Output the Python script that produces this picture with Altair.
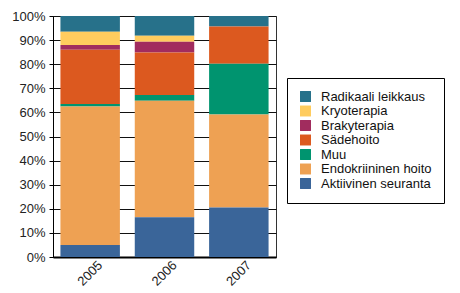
import altair as alt
import pandas as pd

years = ["2005", "2006", "2007"]
categories = ["Radikaali leikkaus", "Kryoterapia", "Brakyterapia", "Sädehoito",
              "Muu", "Endokriininen hoito", "Aktiivinen seuranta"]
colors = ["#27718A", "#FFCC5E", "#A12C5E", "#DC591F", "#00946F", "#EEA153", "#3A6599"]

# values per category (percent), for 2005, 2006, 2007
radikaali = [6.5, 8.2, 4.4]
kryo = [5.5, 2.5, 0.0]
braky = [2.0, 4.4, 0.0]
sade = [22.5, 17.7, 15.4]
muu = [1.0, 2.4, 21.1]
endo = [57.5, 48.3, 38.6]
aktiivinen = [5.0, 16.5, 20.5]

series = [radikaali, kryo, braky, sade, muu, endo, aktiivinen]
rows = []
for ci, (cat, vals) in enumerate(zip(categories, series)):
    for y, v in zip(years, vals):
        rows.append({"Vuosi": y, "Hoito": cat, "Osuus": v, "jarjestys": len(categories) - ci})
df = pd.DataFrame(rows)

FONT = "Liberation Sans"

bars = alt.Chart(df).mark_bar().encode(
    x=alt.X("Vuosi:N", sort=years, title=None,
            scale=alt.Scale(paddingInner=0.2, paddingOuter=0.1),
            axis=alt.Axis(labelAngle=-45, labelAlign="center", labelBaseline="middle",
                          labelFontSize=13, labelFont=FONT, labelColor="#222",
                          domainColor="#000", domainWidth=2, ticks=False, labelPadding=16)),
    y=alt.Y("Osuus:Q", stack="zero", title=None,
            scale=alt.Scale(domain=[0, 100], nice=False),
            axis=alt.Axis(values=list(range(0, 101, 10)), labelExpr="datum.value + '%'",
                          labelFontSize=13, labelFont=FONT, labelColor="#222",
                          grid=True, gridColor="#111", gridWidth=1,
                          domainColor="#000", tickColor="#000", tickSize=4, labelPadding=4)),
    color=alt.Color("Hoito:N", sort=categories,
                    scale=alt.Scale(domain=categories, range=colors),
                    legend=alt.Legend(title=None, orient="none", legendX=234, legendY=62,
                                      symbolType="square", symbolSize=120, symbolStrokeWidth=0,
                                      labelFont=FONT, labelFontSize=13, labelColor="#111",
                                      labelOffset=9, rowPadding=0.5, padding=12,
                                      strokeColor="#000", fillColor="#fff", labelLimit=200)),
    order=alt.Order("jarjestys:Q", sort="ascending"),
)

chart = bars.properties(
    width=223, height=241,
    autosize=alt.AutoSizeParams(type="none"),
    padding={"left": 45, "top": 8, "right": 170, "bottom": 34},
).configure_view(stroke="#333", strokeWidth=1)

chart.save("out.html", embed_options={"renderer": "svg", "actions": False})
